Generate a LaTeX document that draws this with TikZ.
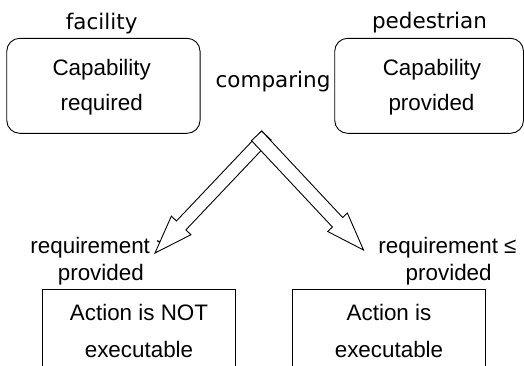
\documentclass[tikz,border=0pt]{standalone}
\usepackage{fontspec}
\setmainfont{Liberation Sans}
\newfontfamily\comicf{DejaVu Sans}
\usetikzlibrary{calc}
\begin{document}
\begin{tikzpicture}[x=1pt,y=-1pt,line width=0.9pt,
  txt/.style={inner sep=0pt,font=\fontsize{22.4}{26}\selectfont},
  ctxt/.style={inner sep=0pt,font=\comicf\fontsize{21.5}{26}\selectfont},
  rbox/.style={draw,rounded corners=13pt,inner sep=0pt},
  sbox/.style={draw,inner sep=0pt},
  barrow/.style={draw,fill=white,line join=miter}]
\useasboundingbox (0,0) rectangle (524,365);
\clip (0,0) rectangle (524,365);
% top boxes
\node[rbox,minimum width=193.3pt,minimum height=95pt] (reqbox) at (103.4,85.8) {};
\node[rbox,minimum width=188.8pt,minimum height=95pt] (provbox) at (429.1,85.8) {};
\node[ctxt,anchor=base] (facility) at (101.7,29) {facility};
\node[ctxt,anchor=base] (pedestrian) at (429.5,28.5) {pedestrian};
\node[ctxt,anchor=base] (comparing) at (273,87) {comparing};
\node[txt,anchor=base] (cap1) at (101.7,75) {Capability};
\node[txt,anchor=base] (required) at (101.7,110) {required};
\node[txt,anchor=base] (cap2) at (432,75) {Capability};
\node[txt,anchor=base] (provided) at (431.5,110) {provided};
% bottom boxes
\node[sbox,minimum width=192.3pt,minimum height=111pt] (notexec) at (138.85,344.5) {};
\node[sbox,minimum width=192.3pt,minimum height=111pt] (exec) at (388.85,344.5) {};
\node[txt,anchor=base] (act1) at (139,320) {Action is NOT};
\node[txt,anchor=base] (ex1) at (139,357) {executable};
\node[txt,anchor=base] (act2) at (389,320) {Action is};
\node[txt,anchor=base] (ex2) at (389,357) {executable};
% condition labels
\node[txt,anchor=base west] (condl) at (30,253) {requirement >};
\node[txt,anchor=base] (condlb) at (100.8,280) {provided};
\node[txt,anchor=base] (condr) at (447.5,253) {requirement ≤};
\node[txt,anchor=base] (condrb) at (448.7,280) {provided};
% block arrows
\coordinate (lm) at (266.4,135.5);
\coordinate (lt) at (155,253);
\coordinate (lh) at ($(lt)!38pt!(lm)$);
\coordinate (rm) at (256.6,135.8);
\coordinate (rt) at (363.5,250);
\coordinate (rh) at ($(rt)!38pt!(rm)$);
\draw[barrow] ($(lm)!6.5pt!90:(lt)$) -- ($(lh)!6.5pt!90:(lt)$) -- ($(lh)!13.5pt!90:(lt)$) -- (lt)
  -- ($(lh)!13.5pt!-90:(lt)$) -- ($(lh)!6.5pt!-90:(lt)$) -- ($(lm)!6.5pt!-90:(lt)$) -- cycle;
\draw[barrow] ($(rm)!7pt!90:(rt)$) -- ($(rh)!7pt!90:(rt)$) -- ($(rh)!13.5pt!90:(rt)$) -- (rt)
  -- ($(rh)!13.5pt!-90:(rt)$) -- ($(rh)!7pt!-90:(rt)$) -- ($(rm)!7pt!-90:(rt)$) -- cycle;
\end{tikzpicture}
\end{document}
